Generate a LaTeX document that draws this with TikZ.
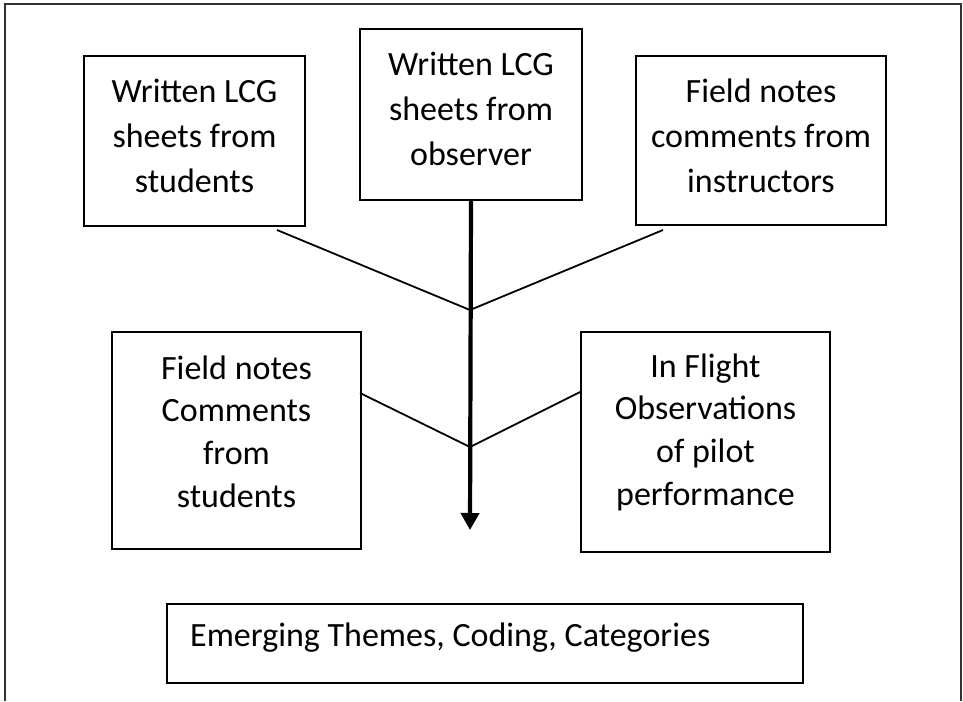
\documentclass[tikz,border=0pt]{standalone}
\usepackage{fontspec}
\setmainfont{Carlito}
\usetikzlibrary{arrows.meta,calc}
\begin{document}
\begin{tikzpicture}[x=1pt,y=-1pt,
  box/.style={draw,line width=2pt,inner sep=0pt,anchor=north west},
  txt/.style={inner sep=0pt,align=center},
  bigfont/.style={font=\fontsize{34}{45}\selectfont},
  midfont/.style={font=\fontsize{34}{42.7}\selectfont},
  conn/.style={line width=1.8pt},
  mainarrow/.style={line width=4.2pt,-{Triangle[width=18pt,length=17pt]}}]
\useasboundingbox (0,0) rectangle (963,701);
\draw[line width=1.8pt,black!80] (5,701) -- (5,4) -- (961,4) -- (961,701);
\node[box,minimum width=221pt,minimum height=170pt] (b1) at (83,55) {};
\node[box,minimum width=222pt,minimum height=171pt] (b2) at (359,28) {};
\node[box,minimum width=250pt,minimum height=169pt] (b3) at (635,55) {};
\node[box,minimum width=249pt,minimum height=217pt] (b4) at (111,331) {};
\node[box,minimum width=249pt,minimum height=220pt] (b5) at (580,331) {};
\node[box,minimum width=636pt,minimum height=79pt] (b6) at (166,603) {};
\node[txt,bigfont] (t1) at ([yshift=5pt]b1.center) {Written LCG\\sheets from\\students};
\node[txt,bigfont] (t2) at ([yshift=6pt]b2.center) {Written LCG\\sheets from\\observer};
\node[txt,bigfont] (t3) at ([yshift=5pt]b3.center) {Field notes\\comments from\\instructors};
\node[txt,midfont] (t4) at ([yshift=9pt]b4.center) {Field notes\\Comments\\from\\students};
\node[txt,midfont] (t5) at ([yshift=10pt]b5.center) {In Flight\\Observations\\of pilot\\performance};
\node[anchor=base west,inner sep=0pt,font=\fontsize{34}{40}\selectfont] (t6) at (190,646) {Emerging Themes, Coding, Categories};
\coordinate (j1) at (470,310);
\coordinate (j2) at (470,447);
\coordinate (tip) at (470,530);
\draw[conn] ([shift={(-29,3)}]b1.south east) -- (j1);
\draw[conn] ([shift={(28,4)}]b3.south west) -- (j1);
\draw[conn] ([shift={(-2,62)}]b4.north east) -- (j2);
\draw[conn] ([shift={(0,61)}]b5.north west) -- (j2);
\draw[mainarrow] (b2.south) -- (tip);
\end{tikzpicture}
\end{document}
